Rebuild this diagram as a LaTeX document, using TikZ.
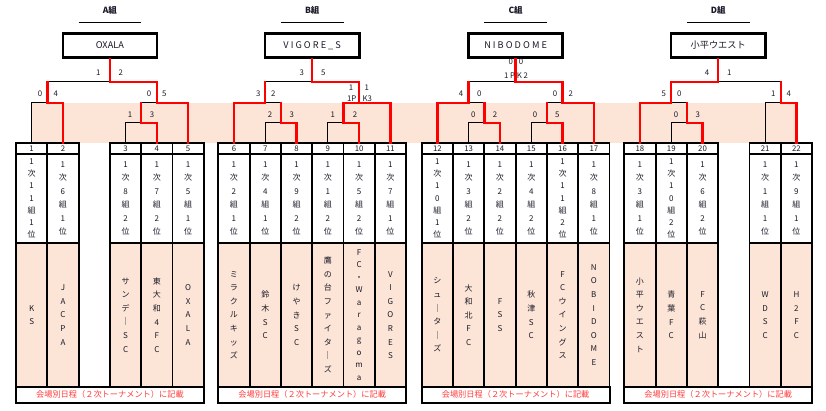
\documentclass[tikz,border=0pt]{standalone}
\usepackage{fontspec}
\setmainfont{Noto Sans CJK JP}
\definecolor{pinkbg}{HTML}{FCE4D6}
\definecolor{ink}{HTML}{1A1A28}
\definecolor{notered}{HTML}{FF3B3B}
\definecolor{winred}{HTML}{FF0000}
\makeatletter
\def\vt@end{VTEND@}
\newcommand\vt[2]{\vbox{\baselineskip=#1pt\lineskiplimit=-20pt\lineskip=0pt\relax\vt@loop#2\vt@end}}
\def\vt@loop#1{\ifx#1\vt@end\else\hbox to 12pt{\hss#1\hss}\expandafter\vt@loop\fi}
\makeatother
\tikzset{
  lose/.style={draw=black, line width=0.9pt},
  win/.style={draw=winred, line width=2.4pt, line cap=rect},
  champ/.style={draw, line width=2.6pt, fill=white, minimum width=94.2pt, minimum height=24.4pt, inner sep=0pt, font=\fontsize{9.2}{10}\selectfont, text=ink},
  grouptitle/.style={inner sep=0pt, font=\bfseries\fontsize{8.5}{10}\selectfont, text=ink},
  score/.style={inner sep=0pt, font=\fontsize{7.8}{8}\selectfont, text=ink},
  numcell/.style={draw, line width=1.8pt, fill=white, minimum width=31.3pt, minimum height=11.4pt, inner sep=0pt, font=\fontsize{7.8}{8}\selectfont, text=ink},
  rankcell/.style={draw, line width=1.8pt, fill=white, minimum width=31.3pt, minimum height=88.6pt, inner sep=0pt, font=\fontsize{8}{8}\selectfont, text=ink},
  namecell/.style={draw, line width=1.8pt, fill=pinkbg, minimum width=31.3pt, minimum height=143.4pt, inner sep=0pt, font=\fontsize{8}{8}\selectfont, text=ink},
  notecell/.style={draw, line width=2pt, fill=white, minimum width=187.8pt, minimum height=16pt, inner sep=0pt, text=notered, font=\fontsize{8.2}{9}\selectfont},
}
\newcommand\team[6]{%
  \node[numcell] (t#1) at (#2,149) {#1};
  \node[rankcell] (r#1) at (#2,198.5) {\vt{#3}{#4}};
  \node[namecell] (n#1) at (#2,315) {\vt{#5}{#6}};
}
\begin{document}
\begin{tikzpicture}[x=1pt,y=-1pt]
\useasboundingbox (0,0) rectangle (826,410);
% pink band
\fill[pinkbg] (31.65,102.7) rectangle (796.45,143.3);

% group titles
\node[grouptitle] (hA) at (109.9,10) {A組};
\node[grouptitle] (hB) at (312.2,10) {B組};
\node[grouptitle] (hC) at (515.6,10) {C組};
\node[grouptitle] (hD) at (718.2,10) {D組};
\draw[line width=0.8pt] (78.6,22.3) -- (141.2,22.3);
\draw[line width=0.8pt] (280.9,22.3) -- (343.5,22.3);
\draw[line width=0.8pt] (484.3,22.3) -- (546.9,22.3);
\draw[line width=0.8pt] (686.9,22.3) -- (749.5,22.3);

% champion boxes
\node[champ] (wA) at (109.9,45.5) {OXALA};
\node[champ] (wB) at (312.2,45.5) {V I G O R E \_ S};
\node[champ] (wC) at (515.6,45.5) {N I B O D O M E};
\node[champ] (wD) at (718.2,45.5) {小平ウエスト};

% team columns
\team{1}{31.65}{12.2}{1次11組1位}{13.6}{KS}
\team{2}{62.95}{13.4}{1次6組1位}{13.6}{JACPA}
\team{3}{125.55}{13.4}{1次8組2位}{13.6}{サンデ｜SC}
\team{4}{156.85}{13.4}{1次7組2位}{13.6}{東大和4FC}
\team{5}{188.15}{13.4}{1次5組1位}{13.6}{OXALA}
\team{6}{233.95}{13.4}{1次2組1位}{13.6}{ミラクルキッズ}
\team{7}{265.25}{13.4}{1次4組1位}{13.6}{鈴木SC}
\team{8}{296.55}{13.4}{1次9組2位}{13.6}{けやきSC}
\team{9}{327.85}{13.4}{1次1組2位}{13.6}{鷹の台ファイタ｜ズ}
\team{10}{359.15}{13.4}{1次5組2位}{12.5}{FC・Waragoma}
\team{11}{390.45}{13.4}{1次7組1位}{13.6}{VIGORES}
\team{12}{437.35}{12.2}{1次10組1位}{13.6}{シュ｜タ｜ズ}
\team{13}{468.65}{13.4}{1次3組2位}{13.6}{大和北FC}
\team{14}{499.95}{13.4}{1次2組2位}{13.6}{FSS}
\team{15}{531.25}{13.4}{1次4組2位}{13.6}{秋津SC}
\team{16}{562.55}{12.2}{1次11組2位}{13.6}{FCウイングス}
\team{17}{593.85}{13.4}{1次8組1位}{13.6}{NOBIDOME}
\team{18}{639.95}{13.4}{1次3組1位}{13.6}{小平ウエスト}
\team{19}{671.25}{12.2}{1次10組2位}{13.6}{青葉FC}
\team{20}{702.55}{13.4}{1次6組2位}{13.6}{FC萩山}
\team{21}{765.15}{13.4}{1次1組1位}{13.6}{WDSC}
\team{22}{796.45}{13.4}{1次9組1位}{13.6}{H2FC}

% notes
\node[notecell] (nA) at (109.9,394.7) {会場別日程（２次トーナメント）に記載};
\node[notecell] (nB) at (312.2,394.7) {会場別日程（２次トーナメント）に記載};
\node[notecell] (nC) at (515.6,394.7) {会場別日程（２次トーナメント）に記載};
\node[notecell] (nD) at (718.2,394.7) {会場別日程（２次トーナメント）に記載};

% match junctions
\coordinate (A1) at (47.3,102.7);
\coordinate (A2) at (141.2,122.7);
\coordinate (A3) at (156.85,102.7);
\coordinate (AF) at (109.9,81.7);
\coordinate (B1) at (280.9,122.7);
\coordinate (B2) at (265.25,102.7);
\coordinate (B3) at (343.5,122.7);
\coordinate (B4) at (359.15,102.7);
\coordinate (BF) at (312.2,81.7);
\coordinate (C1) at (484.3,122.7);
\coordinate (C2) at (468.65,102.7);
\coordinate (C3) at (546.9,122.7);
\coordinate (C4) at (562.55,102.7);
\coordinate (CF) at (515.6,81.7);
\coordinate (D1) at (686.9,122.7);
\coordinate (D2) at (671.25,102.7);
\coordinate (D3) at (780.8,102.7);
\coordinate (DF) at (718.2,81.7);

% losing lines
\draw[lose] (t1.north) |- (A1);
\draw[lose] (t3.north) |- (A2);
\draw[lose] (A2 |- A3) -- (A3);
\draw[lose] (A1 |- AF) -- (AF);
\draw[lose] (t7.north) |- (B1);
\draw[lose] (B1 |- B2) -- (B2);
\draw[lose] (t9.north) |- (B3);
\draw[lose] (B2 |- BF) -- (BF);
\draw[lose] (t13.north) |- (C1);
\draw[lose] (C1 |- C2) -- (C2);
\draw[lose] (t15.north) |- (C3);
\draw[lose] (C3 |- C4) -- (C4);
\draw[lose] (C2 |- CF) -- (CF);
\draw[lose] (t19.north) |- (D1);
\draw[lose] (D1 |- D2) -- (D2);
\draw[lose] (t21.north) |- (D3);
\draw[lose] (D3 |- DF) -- (DF);

% winning lines
\draw[win] (t2.north) |- (A1);
\draw[win] (A1) -- (A1 |- AF);
\draw[win] (t4.north) |- (A2);
\draw[win] (A2) -- (A2 |- A3);
\draw[win] (t5.north) |- (A3);
\draw[win] (A3) |- (AF);
\draw[win] (AF) -- (wA.south);

\draw[win] (t8.north) |- (B1);
\draw[win] (B1) -- (B1 |- B2);
\draw[win] (t6.north) |- (B2);
\draw[win] (B2) -- (B2 |- BF);
\draw[win] (t10.north) |- (B3);
\draw[win] (B3) |- (B4);
\draw[win] (t11.north) |- (B4);
\draw[win] (B4) |- (BF);
\draw[win] (BF) -- (wB.south);

\draw[win] (t14.north) |- (C1);
\draw[win] (C1) -- (C1 |- C2);
\draw[win] (t12.north) |- (C2);
\draw[win] (C2) -- (C2 |- CF);
\draw[win] (t16.north) |- (C3);
\draw[win] (C3) -- (C3 |- C4);
\draw[win] (t17.north) |- (C4);
\draw[win] (C4) |- (CF);
\draw[win] (CF) -- (wC.south);

\draw[win] (t20.north) |- (D1);
\draw[win] (D1) -- (D1 |- D2);
\draw[win] (t18.north) |- (D2);
\draw[win] (D2) |- (DF);
\draw[win] (t22.north) |- (D3);
\draw[win] (D3) -- (D3 |- DF);
\draw[win] (DF) -- (wD.south);

% scores A
\node[score] (sAFl) at (98.3,72.7) {1};
\node[score] (sAFr) at (120.7,72.7) {2};
\node[score] (sA1l) at (40,94) {0};
\node[score] (sA1r) at (55.7,94) {4};
\node[score] (sA3l) at (149,94) {0};
\node[score] (sA3r) at (164.3,94) {5};
\node[score] (sA2l) at (130,115) {1};
\node[score] (sA2r) at (152,115) {3};
% scores B
\node[score] (sBFl) at (301.7,72.7) {3};
\node[score] (sBFr) at (323.3,72.7) {5};
\node[score] (sB2l) at (258.3,94) {3};
\node[score] (sB2r) at (273.3,94) {2};
\node[score] (sB1l) at (270,115) {2};
\node[score] (sB1r) at (291.7,115) {3};
\node[score] (sB4l) at (351,87.7) {1};
\node[score] (sB4lp) at (351.7,98.3) {1P};
\node[score] (sB4r) at (366.7,87.7) {1};
\node[score] (sB4rp) at (367.3,98.3) {K3};
\node[score] (sB3l) at (332.7,115) {1};
\node[score] (sB3r) at (355,115) {2};
% scores C
\node[score] (sCFl) at (510.7,62) {0};
\node[score] (sCFr) at (521,62) {0};
\node[score] (sCFp) at (516,76) {1 P K 2};
\node[score] (sC2l) at (461,94) {4};
\node[score] (sC2r) at (479.3,94) {0};
\node[score] (sC1l) at (473.3,115) {0};
\node[score] (sC1r) at (495,115) {2};
\node[score] (sC4l) at (555,94) {0};
\node[score] (sC4r) at (570.7,94) {2};
\node[score] (sC3l) at (535,115) {0};
\node[score] (sC3r) at (557.3,115) {5};
% scores D
\node[score] (sDFl) at (707,72.7) {4};
\node[score] (sDFr) at (729.3,72.7) {1};
\node[score] (sD2l) at (663.7,94) {5};
\node[score] (sD2r) at (679.3,94) {0};
\node[score] (sD1l) at (676,115) {0};
\node[score] (sD1r) at (697.7,115) {3};
\node[score] (sD3l) at (773.3,94) {1};
\node[score] (sD3r) at (788.7,94) {4};
\end{tikzpicture}
\end{document}
